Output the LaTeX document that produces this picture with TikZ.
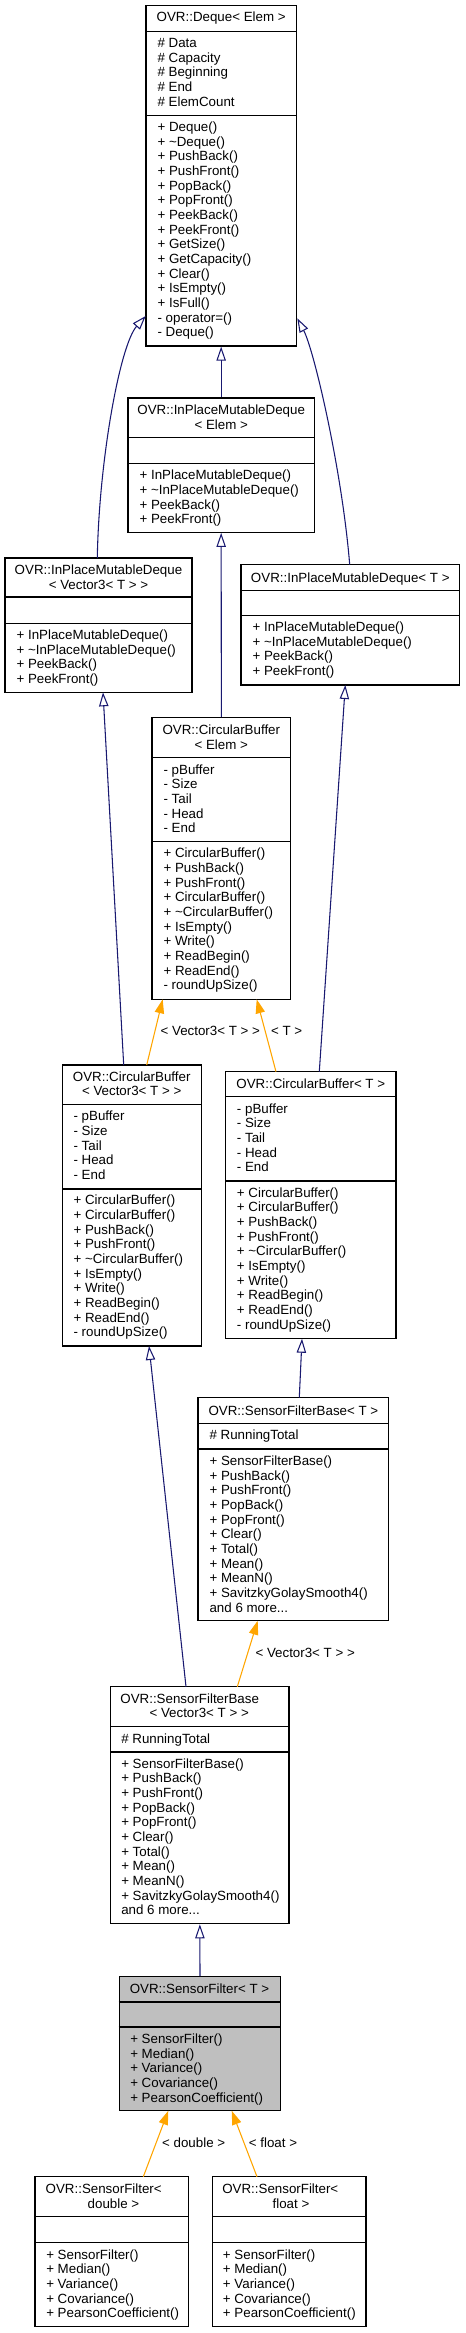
\documentclass[tikz,border=0pt]{standalone}
\usepackage{fontspec}
\setmainfont{Liberation Sans}
\usetikzlibrary{arrows.meta,fit}
\definecolor{edgeblue}{HTML}{191970}
\definecolor{edgeorange}{HTML}{FFA500}
\definecolor{boxgray}{HTML}{BFBFBF}
\tikzset{
  cls/.style={draw=black, line width=0.9pt, fill=white, inner sep=0pt},
  sepline/.style={draw=black, line width=0.9pt},
  txt/.style={inner sep=0pt, anchor=base west, font=\fontsize{10pt}{11pt}\selectfont},
  ttl/.style={inner sep=0pt, anchor=base, font=\fontsize{10pt}{11pt}\selectfont},
  lbl/.style={inner sep=0pt, anchor=base, font=\fontsize{10pt}{11pt}\selectfont},
  inh/.style={draw=edgeblue, line width=0.8pt, -{Triangle[open, length=10.5pt, width=7pt]}},
  tmpl/.style={draw=edgeorange, line width=0.8pt, -{Triangle[length=10.5pt, width=7pt]}},
}
\newcommand\cmembers[4]{%
  \foreach \t [count=\i] in {#4}{\node[txt] (#1-\i) at (#2,{#3+(\i-1)*14.667}) {\t};}}
\newcommand\csep[3]{\draw[sepline] (#1.west |- 0,#2) -- (#1.east |- 0,#2);}
\begin{document}
\begin{tikzpicture}[x=0.75pt, y=-0.75pt]
\useasboundingbox (0,0) rectangle (465,2333);

% ---------- Deque<Elem>
\node[cls, fit={(146,5.7) (296.3,346)}] (deque) {};
\csep{deque}{31.3}{}\csep{deque}{115.3}{}
\node[ttl] (deque-t) at (221.2,22) {OVR::Deque< Elem >};
\cmembers{deque-a}{157.3}{47.4}{\# Data,\# Capacity,\# Beginning,\# End,\# ElemCount}
\cmembers{deque-m}{157.3}{131.4}{+ Deque(),+ \textasciitilde Deque(),+ PushBack(),+ PushFront(),+ PopBack(),+ PopFront(),+ PeekBack(),+ PeekFront(),+ GetSize(),+ GetCapacity(),+ Clear(),+ IsEmpty(),+ IsFull(),- operator=(),- Deque()}

% ---------- InPlaceMutableDeque<Elem>
\node[cls, fit={(128,398) (314.3,532.3)}] (ipe) {};
\csep{ipe}{437.3}{}\csep{ipe}{463.3}{}
\node[ttl] (ipe-t1) at (221.2,414) {OVR::InPlaceMutableDeque};
\node[ttl] (ipe-t2) at (221.2,429) {< Elem >};
\cmembers{ipe-m}{139.3}{479.7}{+ InPlaceMutableDeque(),+ \textasciitilde InPlaceMutableDeque(),+ PeekBack(),+ PeekFront()}

% ---------- InPlaceMutableDeque<Vector3<T>>
\node[cls, fit={(5,558) (192,692.3)}] (ipv) {};
\csep{ipv}{597}{}\csep{ipv}{623.7}{}
\node[ttl] (ipv-t1) at (98.5,574.7) {OVR::InPlaceMutableDeque};
\node[ttl] (ipv-t2) at (98.5,589.7) {< Vector3< T > >};
\cmembers{ipv-m}{16.3}{639.4}{+ InPlaceMutableDeque(),+ \textasciitilde InPlaceMutableDeque(),+ PeekBack(),+ PeekFront()}

% ---------- InPlaceMutableDeque<T>
\node[cls, fit={(241,564.7) (459.7,685)}] (ipt) {};
\csep{ipt}{590.7}{}\csep{ipt}{615.7}{}
\node[ttl] (ipt-t) at (350.3,582) {OVR::InPlaceMutableDeque< T >};
\cmembers{ipt-m}{252.3}{631.4}{+ InPlaceMutableDeque(),+ \textasciitilde InPlaceMutableDeque(),+ PeekBack(),+ PeekFront()}

% ---------- CircularBuffer<Elem>
\node[cls, fit={(152,717.7) (290.7,999.3)}] (cbe) {};
\csep{cbe}{757.7}{}\csep{cbe}{841.7}{}
\node[ttl] (cbe-t1) at (221.3,734) {OVR::CircularBuffer};
\node[ttl] (cbe-t2) at (221.3,749.4) {< Elem >};
\cmembers{cbe-a}{163.3}{774}{- pBuffer,- Size,- Tail,- Head,- End}
\cmembers{cbe-m}{163.3}{857.7}{+ CircularBuffer(),+ PushBack(),+ PushFront(),+ CircularBuffer(),+ \textasciitilde CircularBuffer(),+ IsEmpty(),+ Write(),+ ReadBegin(),+ ReadEnd(),- roundUpSize()}

% ---------- CircularBuffer<Vector3<T>>
\node[cls, fit={(62.7,1065) (201.3,1346)}] (cbv) {};
\csep{cbv}{1104.3}{}\csep{cbv}{1189}{}
\node[ttl] (cbv-t1) at (131.7,1081.4) {OVR::CircularBuffer};
\node[ttl] (cbv-t2) at (131.7,1095.7) {< Vector3< T > >};
\cmembers{cbv-a}{73.3}{1120.7}{- pBuffer,- Size,- Tail,- Head,- End}
\cmembers{cbv-m}{73.3}{1204.7}{+ CircularBuffer(),+ CircularBuffer(),+ PushBack(),+ PushFront(),+ \textasciitilde CircularBuffer(),+ IsEmpty(),+ Write(),+ ReadBegin(),+ ReadEnd(),- roundUpSize()}

% ---------- CircularBuffer<T>
\node[cls, fit={(225.7,1071.7) (396,1338.7)}] (cbt) {};
\csep{cbt}{1096.7}{}\csep{cbt}{1181}{}
\node[ttl] (cbt-t) at (310.8,1088) {OVR::CircularBuffer< T >};
\cmembers{cbt-a}{236.7}{1113}{- pBuffer,- Size,- Tail,- Head,- End}
\cmembers{cbt-m}{236.7}{1197}{+ CircularBuffer(),+ CircularBuffer(),+ PushBack(),+ PushFront(),+ \textasciitilde CircularBuffer(),+ IsEmpty(),+ Write(),+ ReadBegin(),+ ReadEnd(),- roundUpSize()}

% ---------- SensorFilterBase<T>
\node[cls, fit={(198,1397.7) (388.7,1620.7)}] (sbt) {};
\csep{sbt}{1423.3}{}\csep{sbt}{1449}{}
\node[ttl] (sbt-t) at (293.4,1415) {OVR::SensorFilterBase< T >};
\cmembers{sbt-a}{209.3}{1439.4}{\# RunningTotal}
\cmembers{sbt-m}{209.3}{1465.4}{+ SensorFilterBase(),+ PushBack(),+ PushFront(),+ PopBack(),+ PopFront(),+ Clear(),+ Total(),+ Mean(),+ MeanN(),+ SavitzkyGolaySmooth4(),and 6 more.{}.{}.}

% ---------- SensorFilterBase<Vector3<T>>
\node[cls, fit={(110.7,1686.7) (289,1923.7)}] (sbv) {};
\csep{sbv}{1726.3}{}\csep{sbv}{1752}{}
\node[ttl] (sbv-t1) at (189.7,1703) {OVR::SensorFilterBase};
\node[ttl] (sbv-t2) at (199.2,1717.4) {< Vector3< T > >};
\cmembers{sbv-a}{121}{1743.4}{\# RunningTotal}
\cmembers{sbv-m}{121}{1768}{+ SensorFilterBase(),+ PushBack(),+ PushFront(),+ PopBack(),+ PopFront(),+ Clear(),+ Total(),+ Mean(),+ MeanN(),+ SavitzkyGolaySmooth4(),and 6 more.{}.{}.}

% ---------- SensorFilter<T>
\node[cls, fill=boxgray, fit={(119.3,1976.7) (280.7,2110.7)}] (sft) {};
\csep{sft}{2002}{}\csep{sft}{2027}{}
\node[ttl] (sft-t) at (199.5,1993.7) {OVR::SensorFilter< T >};
\cmembers{sft-m}{130}{2043.4}{+ SensorFilter(),+ Median(),+ Variance(),+ Covariance(),+ PearsonCoefficient()}

% ---------- SensorFilter<double>
\node[cls, fit={(35,2176.7) (188.7,2326.7)}] (sfd) {};
\csep{sfd}{2216.7}{}\csep{sfd}{2242.7}{}
\node[ttl] (sfd-t1) at (103.7,2193.7) {OVR::SensorFilter<};
\node[ttl] (sfd-t2) at (113.5,2208) {double >};
\cmembers{sfd-m}{46}{2259}{+ SensorFilter(),+ Median(),+ Variance(),+ Covariance(),+ PearsonCoefficient()}

% ---------- SensorFilter<float>
\node[cls, fit={(212.7,2176.7) (366,2326.7)}] (sff) {};
\csep{sff}{2216.7}{}\csep{sff}{2242.7}{}
\node[ttl] (sff-t1) at (280.3,2193.7) {OVR::SensorFilter<};
\node[ttl] (sff-t2) at (291,2208) {float >};
\cmembers{sff-m}{222.7}{2259}{+ SensorFilter(),+ Median(),+ Variance(),+ Covariance(),+ PearsonCoefficient()}

% ---------- connector end points
\coordinate (dq-l) at (145.7,316);
\coordinate (dq-r) at (297.3,318.3);
\coordinate (ipv-top) at (97.3,558);
\coordinate (ipt-top) at (349.7,564.7);
\coordinate (ipv-bot) at (103,692.3);
\coordinate (ipt-bot) at (345.3,685);
\coordinate (cbv-topb) at (123.7,1065);
\coordinate (cbv-topo) at (146.7,1065);
\coordinate (cbt-topb) at (319.3,1071.7);
\coordinate (cbt-topo) at (276,1071.7);
\coordinate (cbe-botl) at (162.7,999.3);
\coordinate (cbe-botr) at (256.7,999.3);
\coordinate (cbv-bot) at (149,1346);
\coordinate (cbt-bot) at (302,1338.7);
\coordinate (sbt-top) at (299.3,1397.7);
\coordinate (sbt-bot) at (257.7,1620.7);
\coordinate (sbv-topb) at (186,1686.7);
\coordinate (sbv-topo) at (237.3,1686.7);
\coordinate (sft-botl) at (168.3,2110.7);
\coordinate (sft-botr) at (231.7,2110.7);
\coordinate (sfd-top) at (143.3,2176.7);
\coordinate (sff-top) at (257,2176.7);

% ---------- inheritance connectors
\draw[inh] (ipe.north) -- (deque.south);
\draw[inh] (ipv-top) .. controls (99,460) and (120,345) .. (dq-l);
\draw[inh] (ipt-top) .. controls (342,470) and (314,350) .. (dq-r);
\draw[inh] (cbe.north) -- (ipe.south);
\draw[inh] (cbv-topb) -- (ipv-bot);
\draw[inh] (cbt-topb) -- (ipt-bot);
\draw[inh] (sbt-top) -- (cbt-bot);
\draw[inh] (sbv-topb) -- (cbv-bot);
\draw[inh] (sft.north) -- (sbv.south);

% ---------- template instantiation connectors
\draw[tmpl] (cbv-topo) -- (cbe-botl);
\draw[tmpl] (cbt-topo) -- (cbe-botr);
\draw[tmpl] (sbv-topo) -- (sbt-bot);
\draw[tmpl] (sfd-top) -- (sft-botl);
\draw[tmpl] (sff-top) -- (sft-botr);

\node[lbl] (l-cbv) at (210.3,1035.7) {< Vector3< T > >};
\node[lbl] (l-cbt) at (286.7,1035.7) {< T >};
\node[lbl] (l-sbv) at (305.2,1657) {< Vector3< T > >};
\node[lbl] (l-sfd) at (193.7,2147) {< double >};
\node[lbl] (l-sff) at (273,2147) {< float >};
\end{tikzpicture}
\end{document}
